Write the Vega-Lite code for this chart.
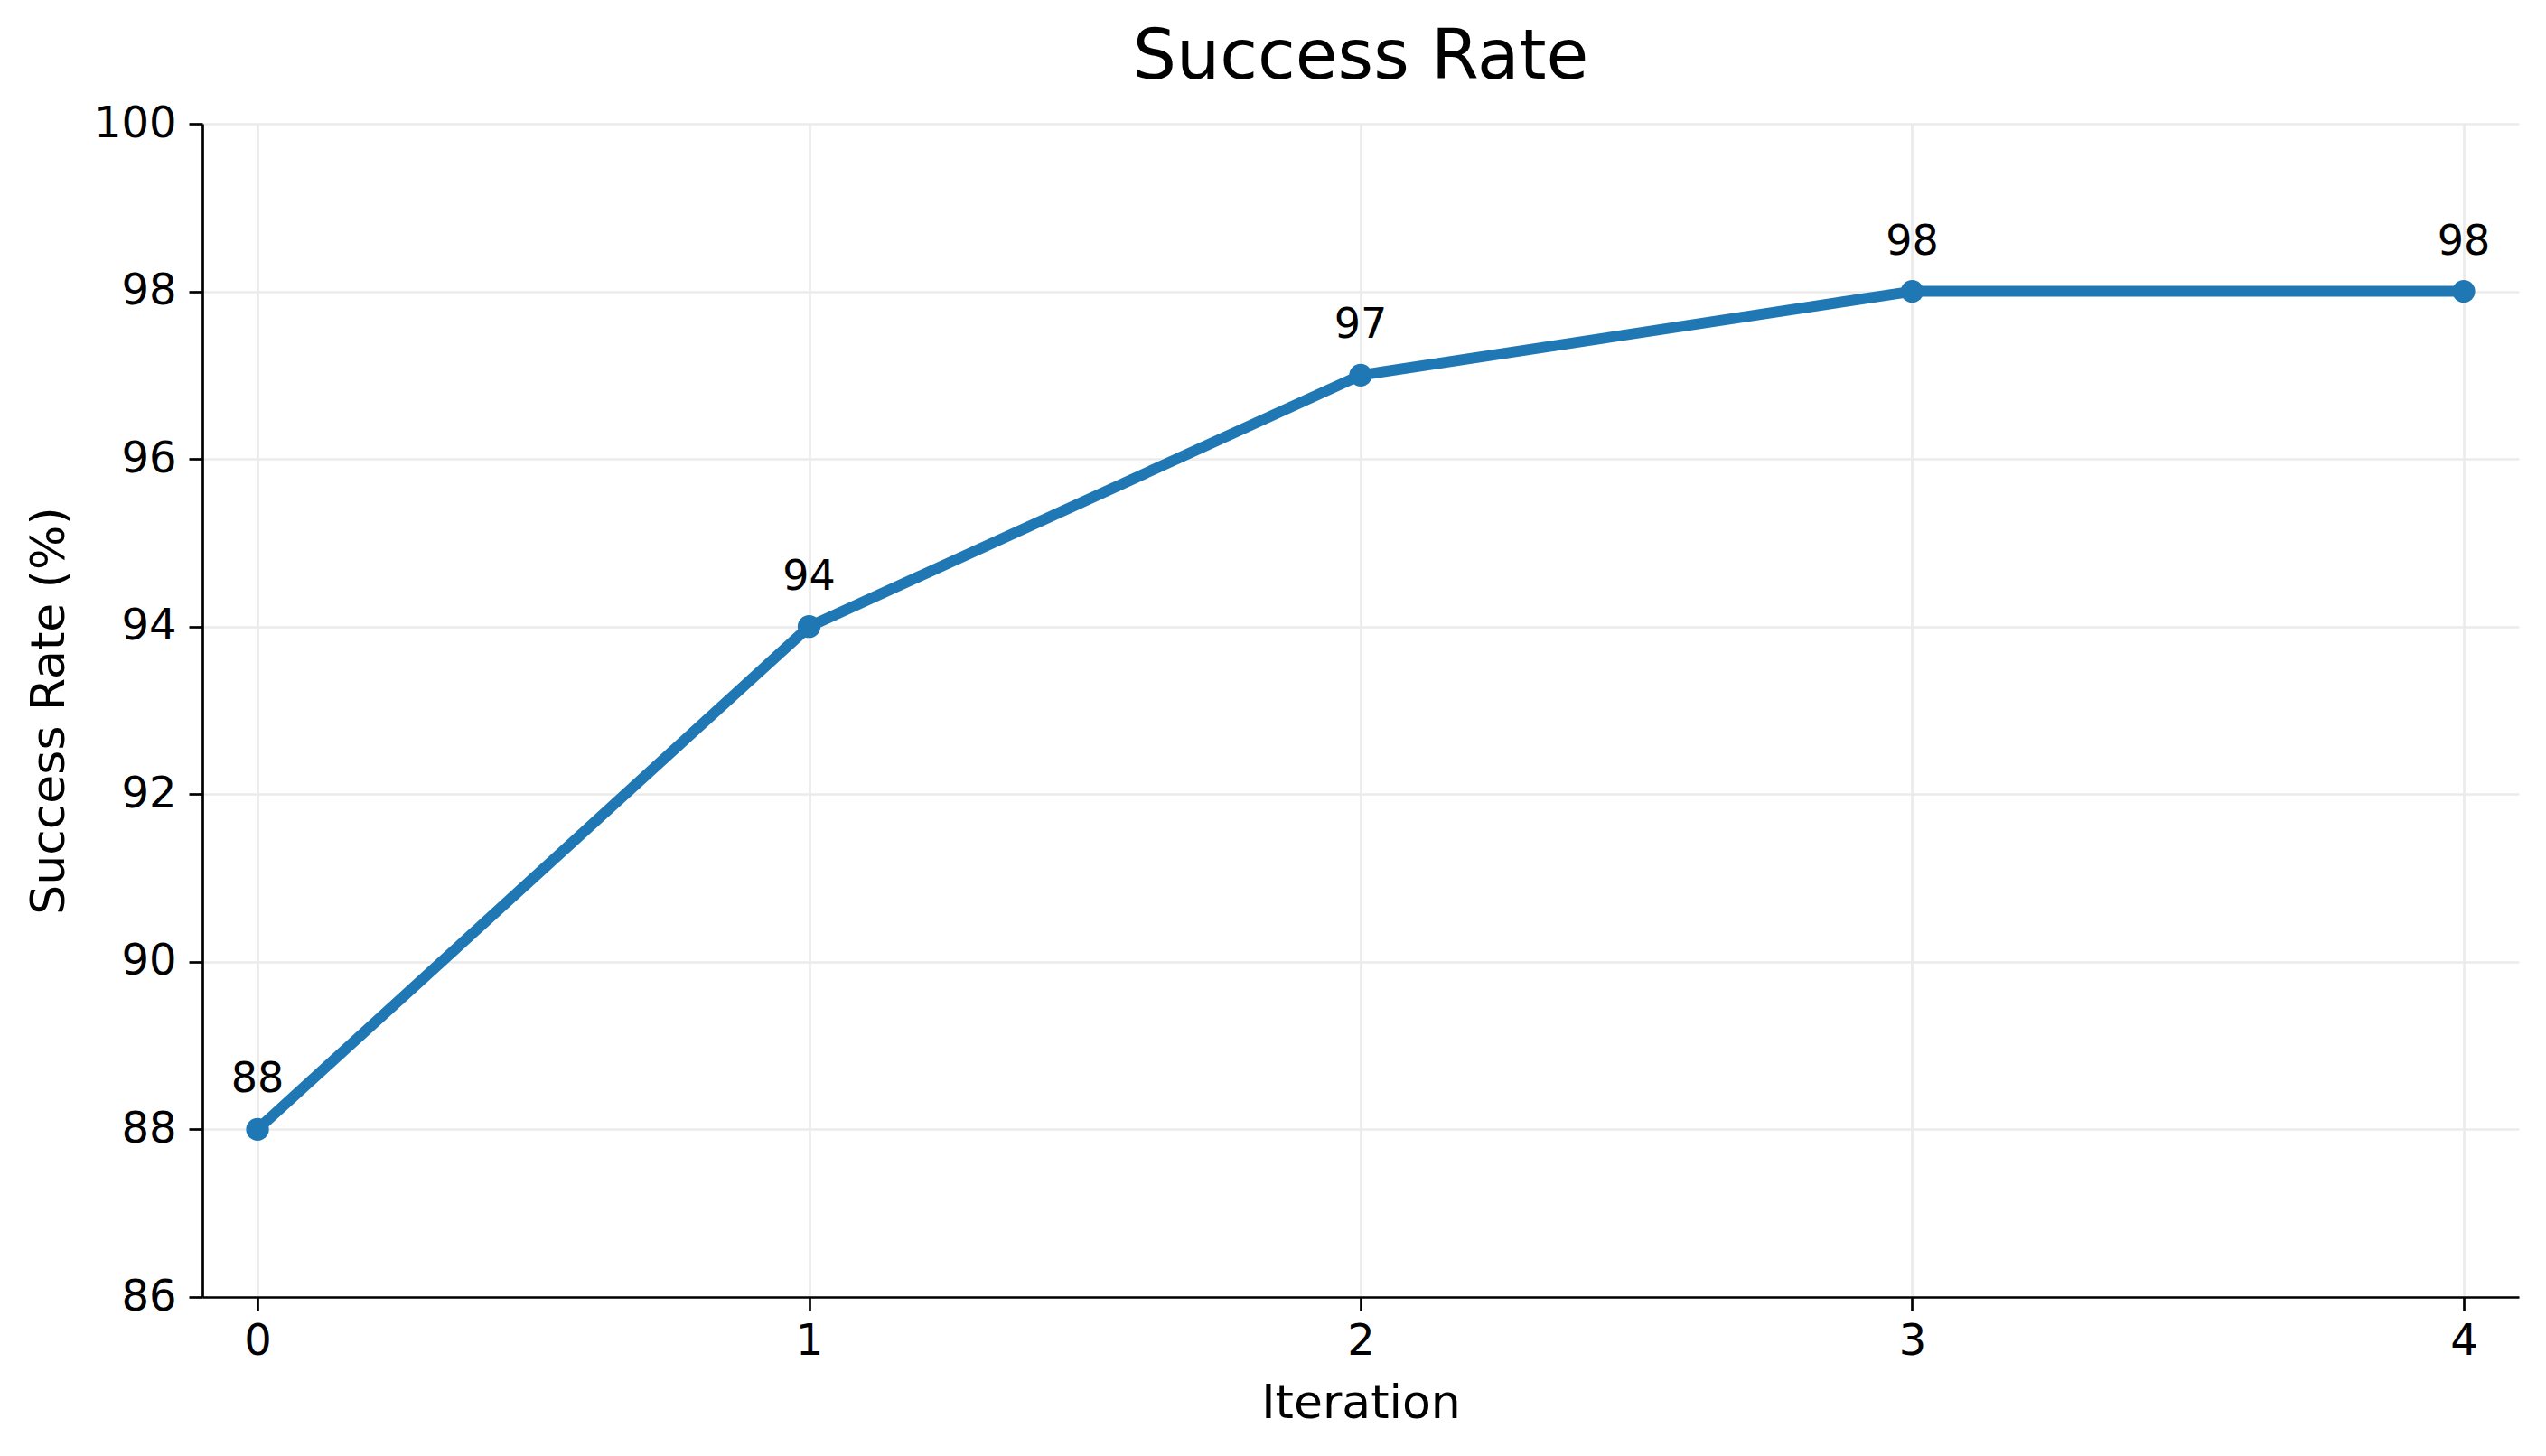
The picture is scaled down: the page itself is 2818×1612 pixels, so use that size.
{
  "$schema": "https://vega.github.io/schema/vega-lite/v6.json",
  "width": 2564,
  "height": 1299,
  "autosize": {"type": "pad"},
  "padding": {"left": 28, "top": 26, "right": 31, "bottom": 27},
  "background": "white",
  "title": {
    "text": "Success Rate",
    "font": "DejaVu Sans",
    "fontSize": 76,
    "fontWeight": "normal",
    "color": "black",
    "anchor": "middle",
    "frame": "group",
    "offset": 10
  },
  "config": {
    "view": {"stroke": null},
    "font": "DejaVu Sans",
    "axis": {
      "labelFont": "DejaVu Sans",
      "titleFont": "DejaVu Sans",
      "labelFontSize": 48,
      "titleFontSize": 52,
      "titleFontWeight": "normal",
      "labelColor": "black",
      "titleColor": "black",
      "domainColor": "black",
      "domainWidth": 2.7,
      "tickColor": "black",
      "tickWidth": 2.7,
      "tickSize": 15,
      "gridColor": "#ebebeb",
      "gridWidth": 2.7
    }
  },
  "data": {
    "values": [
      {"iteration": 0, "rate": 88},
      {"iteration": 1, "rate": 94},
      {"iteration": 2, "rate": 97},
      {"iteration": 3, "rate": 98},
      {"iteration": 4, "rate": 98}
    ]
  },
  "encoding": {
    "x": {
      "field": "iteration",
      "type": "quantitative",
      "scale": {"domain": [-0.1, 4.1], "nice": false, "zero": false},
      "axis": {"title": "Iteration", "values": [0, 1, 2, 3, 4], "labelPadding": 10, "titlePadding": 19, "labelFlush": false}
    },
    "y": {
      "field": "rate",
      "type": "quantitative",
      "scale": {"domain": [86, 100], "nice": false, "zero": false},
      "axis": {"title": "Success Rate (%)", "values": [86, 88, 90, 92, 94, 96, 98, 100], "labelPadding": 14, "titlePadding": 22, "labelFlush": false}
    }
  },
  "layer": [
    {"mark": {"type": "line", "color": "#1f77b4", "strokeWidth": 12, "strokeJoin": "round", "strokeCap": "round"}},
    {"mark": {"type": "circle", "color": "#1f77b4", "opacity": 1, "size": 640}},
    {
      "mark": {"type": "text", "font": "DejaVu Sans", "fontSize": 46, "color": "black", "align": "center", "baseline": "alphabetic", "dy": -41},
      "encoding": {"text": {"field": "rate", "type": "quantitative"}}
    }
  ]
}
